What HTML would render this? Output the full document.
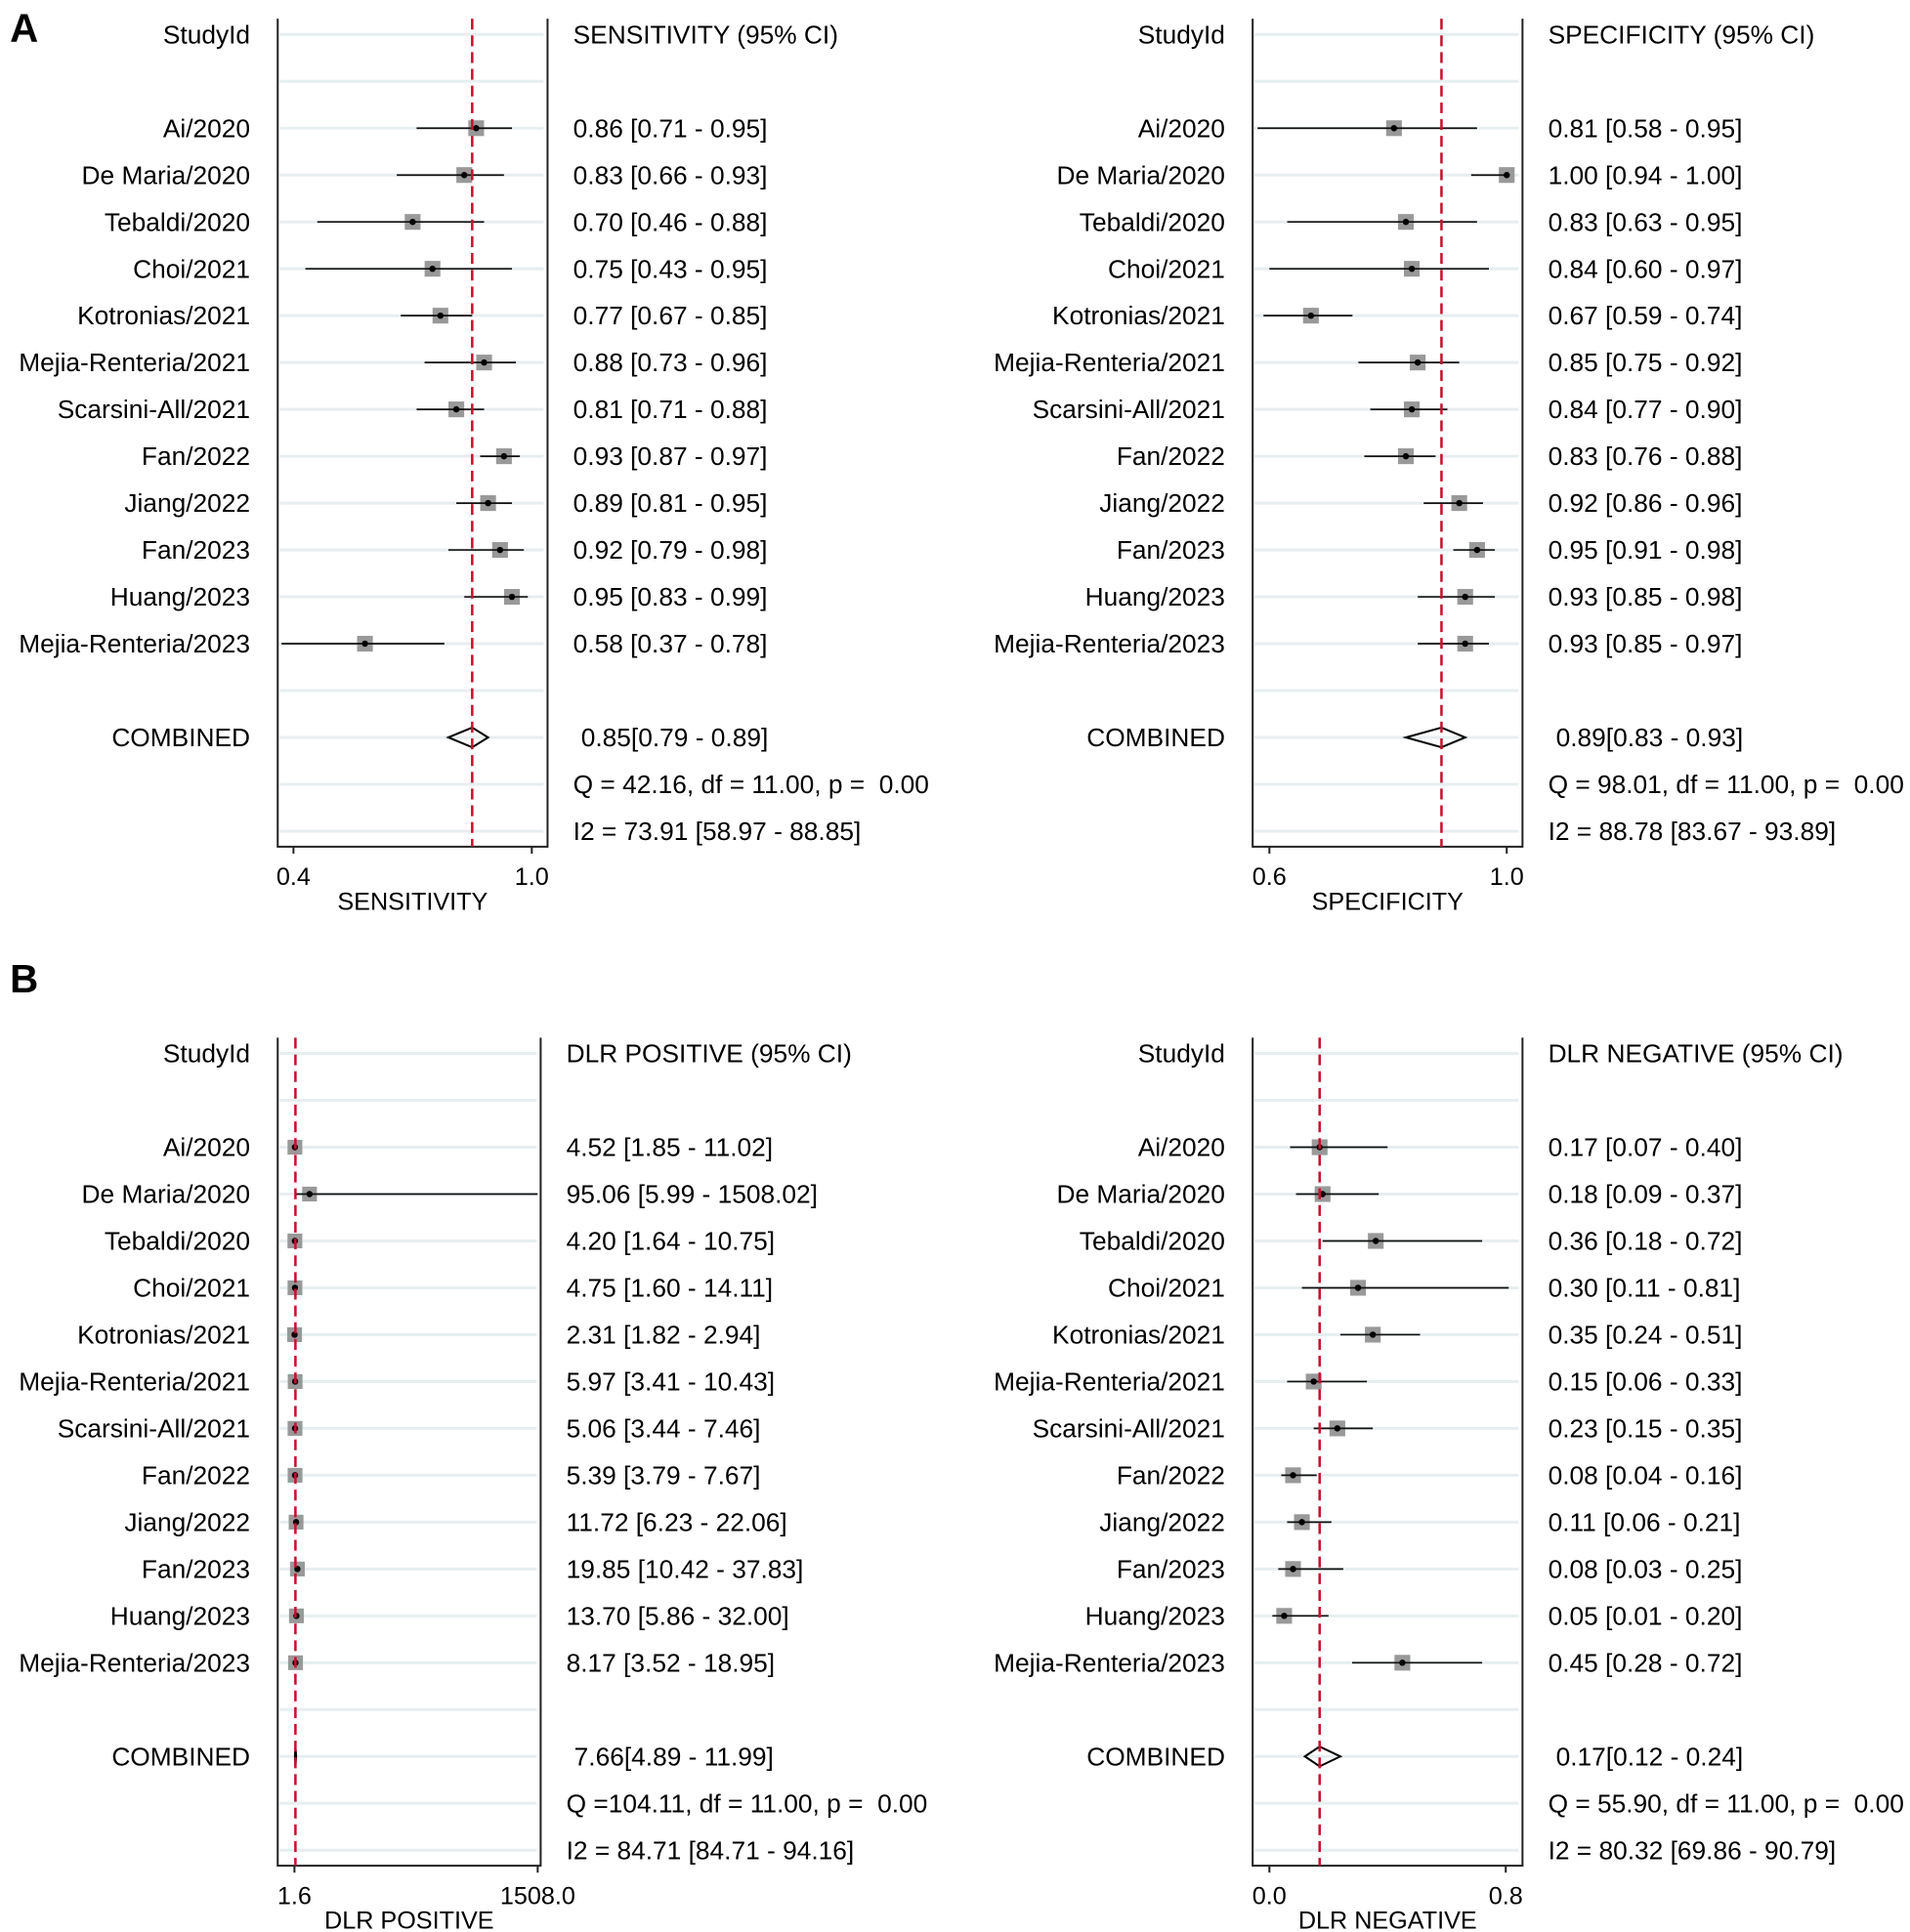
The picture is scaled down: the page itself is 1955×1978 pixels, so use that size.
<!DOCTYPE html>
<html><head><meta charset="utf-8"><style>
html,body{margin:0;padding:0;background:#fff;}
svg{display:block;font-family:"Liberation Sans",Arial,sans-serif;}
</style></head><body>
<svg id="fig" width="1955" height="1978" viewBox="0 0 1955 1978" xmlns="http://www.w3.org/2000/svg">
<rect x="0" y="0" width="1955" height="1978" fill="#fff"/>
<g id="root" transform="scale(1.008)">
<text x="10" y="42" font-size="40" font-weight="bold">A</text>
<text x="10" y="1008" font-size="40" font-weight="bold">B</text>
</g>
</svg>
<script>
const studies = ["Ai/2020","De Maria/2020","Tebaldi/2020","Choi/2021","Kotronias/2021","Mejia-Renteria/2021","Scarsini-All/2021","Fan/2022","Jiang/2022","Fan/2023","Huang/2023","Mejia-Renteria/2023"];

const sensEst = [0.86,0.83,0.70,0.75,0.77,0.88,0.81,0.93,0.89,0.92,0.95,0.58];
const sensLo  = [0.71,0.66,0.46,0.43,0.67,0.73,0.71,0.87,0.81,0.79,0.83,0.37];
const sensHi  = [0.95,0.93,0.88,0.95,0.85,0.96,0.88,0.97,0.95,0.98,0.99,0.78];
const sensComb = [0.85,0.79,0.89];
const sensTicks = [0.4,1.0];
const sensTickLabels = ["0.4","1.0"];

const specEst = [0.81,1.00,0.83,0.84,0.67,0.85,0.84,0.83,0.92,0.95,0.93,0.93];
const specLo  = [0.58,0.94,0.63,0.60,0.59,0.75,0.77,0.76,0.86,0.91,0.85,0.85];
const specHi  = [0.95,1.00,0.95,0.97,0.74,0.92,0.90,0.88,0.96,0.98,0.98,0.97];
const specComb = [0.89,0.83,0.93];
const specTicks = [0.6,1.0];
const specTickLabels = ["0.6","1.0"];

const dlrpEst = [4.52,95.06,4.20,4.75,2.31,5.97,5.06,5.39,11.72,19.85,13.70,8.17];
const dlrpLo  = [1.85,5.99,1.64,1.60,1.82,3.41,3.44,3.79,6.23,10.42,5.86,3.52];
const dlrpHi  = [11.02,1508.02,10.75,14.11,2.94,10.43,7.46,7.67,22.06,37.83,32.00,18.95];
const dlrpComb = [7.66,4.89,11.99];
const dlrpTicks = [1.6,1508.0];
const dlrpTickLabels = ["1.6","1508.0"];

const dlrnEst = [0.17,0.18,0.36,0.30,0.35,0.15,0.23,0.08,0.11,0.08,0.05,0.45];
const dlrnLo  = [0.07,0.09,0.18,0.11,0.24,0.06,0.15,0.04,0.06,0.03,0.01,0.28];
const dlrnHi  = [0.40,0.37,0.72,0.81,0.51,0.33,0.35,0.16,0.21,0.25,0.20,0.72];
const dlrnComb = [0.17,0.12,0.24];
const dlrnTicks = [0.0,0.8];
const dlrnTickLabels = ["0.0","0.8"];

const statsQ = ["Q = 42.16, df = 11.00, p =  0.00","Q = 98.01, df = 11.00, p =  0.00","Q =104.11, df = 11.00, p =  0.00","Q = 55.90, df = 11.00, p =  0.00"];
const statsI2 = ["I2 = 73.91 [58.97 - 88.85]","I2 = 88.78 [83.67 - 93.89]","I2 = 84.71 [84.71 - 94.16]","I2 = 80.32 [69.86 - 90.79]"];

const NS = "http://www.w3.org/2000/svg";
const root = document.getElementById("root");
function mk(tag, attrs, parent){
  const e = document.createElementNS(NS, tag);
  for (const k in attrs) e.setAttribute(k, attrs[k]);
  (parent||root).appendChild(e);
  return e;
}

const FS = 26.1;
const panels = [
  {key:"sensitivity", est:sensEst, lo:sensLo, hi:sensHi, comb:sensComb, ticks:sensTicks, tickLabels:sensTickLabels,
   header:"SENSITIVITY (95% CI)", title:"SENSITIVITY", q:statsQ[0], i2:statsI2[0],
   x0:282, x1:556, top:19, bottom:860, y0:35, dy:47.6, px0:298, px1:540, labelRight:254, textX:582, ms:16},
  {key:"specificity", est:specEst, lo:specLo, hi:specHi, comb:specComb, ticks:specTicks, tickLabels:specTickLabels,
   header:"SPECIFICITY (95% CI)", title:"SPECIFICITY", q:statsQ[1], i2:statsI2[1],
   x0:1272, x1:1546, top:19, bottom:860, y0:35, dy:47.6, px0:1289, px1:1530, labelRight:1244, textX:1572, ms:16},
  {key:"dlr-positive", est:dlrpEst, lo:dlrpLo, hi:dlrpHi, comb:dlrpComb, ticks:dlrpTicks, tickLabels:dlrpTickLabels,
   header:"DLR POSITIVE (95% CI)", title:"DLR POSITIVE", q:statsQ[2], i2:statsI2[2],
   x0:282, x1:549, top:1054, bottom:1895, y0:1070, dy:47.6, px0:299, px1:546, labelRight:254, textX:575, ms:15},
  {key:"dlr-negative", est:dlrnEst, lo:dlrnLo, hi:dlrnHi, comb:dlrnComb, ticks:dlrnTicks, tickLabels:dlrnTickLabels,
   header:"DLR NEGATIVE (95% CI)", title:"DLR NEGATIVE", q:statsQ[3], i2:statsI2[3],
   x0:1272, x1:1546, top:1054, bottom:1895, y0:1070, dy:47.6, px0:1289, px1:1529, labelRight:1244, textX:1572, ms:16}
];

panels.forEach(p => {
  const g = mk("g", {});
  
  
  const t0 = p.ticks[0], t1 = p.ticks[p.ticks.length-1];
  const sx = v => p.px0 + (v - t0) / (t1 - t0) * (p.px1 - p.px0);
  const ry = k => p.y0 + k * p.dy;

  for (let k = 0; k < 18; k++) {
    const gl = mk("line", {x1:p.x0+2, x2:p.x1-4, y1:ry(k), y2:ry(k), stroke:"#e7eef0", "stroke-width":3}, g);
    
    
  }
  const box = mk("path", {d:`M${p.x0},${p.top} V${p.bottom} H${p.x1} V${p.top}`, fill:"none", stroke:"#222", "stroke-width":2}, g);
  
  

  const sh = mk("text", {x:p.labelRight, y:ry(0)+9, "font-size":FS, "text-anchor":"end"}, g);
  sh.textContent = "StudyId";
  
  
  const hh = mk("text", {x:p.textX, y:ry(0)+9, "font-size":FS}, g);
  hh.textContent = p.header;
  
  

  p.est.forEach((v, i) => {
    const y = ry(i + 2);
    const lb = mk("text", {x:p.labelRight, y:y+9, "font-size":FS, "text-anchor":"end"}, g);
    lb.textContent = studies[i];
    
    
    const sq = mk("rect", {x:sx(v)-p.ms/2, y:y-p.ms/2, width:p.ms, height:p.ms, fill:"#999"}, g);
    
    
    const ci = mk("line", {x1:sx(p.lo[i]), x2:sx(p.hi[i]), y1:y, y2:y, stroke:"#111", "stroke-width":1.7}, g);
    
    
    const dot = mk("circle", {cx:sx(v), cy:y, r:3.2, fill:"#000"}, g);
    
    
    const vt = mk("text", {x:p.textX, y:y+9, "font-size":FS}, g);
    vt.textContent = `${v.toFixed(2)} [${p.lo[i].toFixed(2)} - ${p.hi[i].toFixed(2)}]`;
    
    
  });

  const cy = ry(15);
  const cl = mk("text", {x:p.labelRight, y:cy+9, "font-size":FS, "text-anchor":"end"}, g);
  cl.textContent = "COMBINED";
  
  
  const dm = mk("polygon", {points:`${sx(p.comb[1])},${cy} ${sx(p.comb[0])},${cy-10} ${sx(p.comb[2])},${cy} ${sx(p.comb[0])},${cy+10}`, fill:"none", stroke:"#000", "stroke-width":2}, g);
  
  
  const ct = mk("text", {x:p.textX+8, y:cy+9, "font-size":FS}, g);
  ct.textContent = `${p.comb[0].toFixed(2)}[${p.comb[1].toFixed(2)} - ${p.comb[2].toFixed(2)}]`;
  
  
  const qt = mk("text", {x:p.textX, y:ry(16)+9, "font-size":FS, style:"white-space:pre"}, g);
  qt.textContent = p.q;
  
  
  const it = mk("text", {x:p.textX, y:ry(17)+9, "font-size":FS}, g);
  it.textContent = p.i2;
  
  

  const rl = mk("line", {x1:sx(p.comb[0]), x2:sx(p.comb[0]), y1:p.top, y2:p.bottom, stroke:"#c8102e", "stroke-width":2.5, "stroke-dasharray":"11,6"}, g);
  
  

  p.ticks.forEach((t, j) => {
    const tk = mk("line", {x1:sx(t), x2:sx(t), y1:p.bottom, y2:p.bottom+7, stroke:"#222", "stroke-width":2}, g);
    
    
    const tl = mk("text", {x:sx(t), y:p.bottom+39, "font-size":25, "text-anchor":"middle"}, g);
    tl.textContent = p.tickLabels[j];
    
    
  });
  const at = mk("text", {x:(p.x0+p.x1)/2, y:p.bottom+64, "font-size":25, "text-anchor":"middle"}, g);
  at.textContent = p.title;
  
  
});
</script>
</body></html>
